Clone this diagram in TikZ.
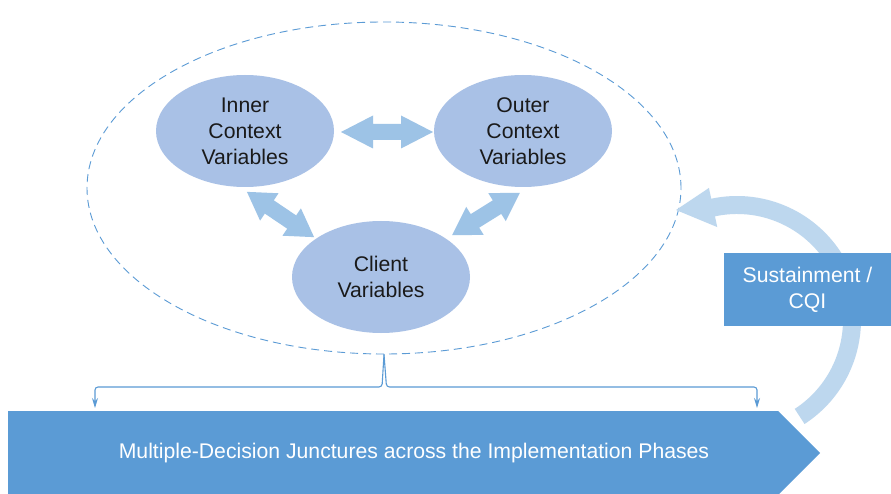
\documentclass[tikz,border=0pt]{standalone}
\usepackage{fontspec}
\setmainfont{Liberation Sans}
\usetikzlibrary{arrows.meta,shapes.geometric}
\definecolor{barblue}{HTML}{5B9BD5}
\definecolor{bubble}{HTML}{A9C1E6}
\definecolor{linkarrow}{HTML}{9DC3E6}
\definecolor{loopblue}{HTML}{BDD7EE}
\definecolor{ink}{HTML}{1A1A1A}
\begin{document}
\begin{tikzpicture}[x=1pt,y=-1pt,
  lbl/.style={font=\fontsize{21.2}{26}\selectfont, align=center},
  bubblenode/.style={ellipse, fill=bubble, inner sep=0pt,
    minimum width=178pt, minimum height=112pt, lbl, text=ink},
  ring/.style={ellipse, draw=barblue, line width=0.9pt,
    dash pattern=on 8pt off 5pt, inner sep=0pt,
    minimum width=594pt, minimum height=332pt},
  link/.style={draw=barblue, line width=1.1pt},
  linktip/.style={-{Stealth[length=10pt,width=6pt]}, rounded corners=3pt},
  pics/dblarrow/.style args={#1/#2}{code={
    \fill[linkarrow] (-#1/2,0) -- (-#1/2+#2,16.5) -- (-#1/2+#2,8)
      -- (#1/2-#2,8) -- (#1/2-#2,16.5) -- (#1/2,0)
      -- (#1/2-#2,-16.5) -- (#1/2-#2,-8) -- (-#1/2+#2,-8)
      -- (-#1/2+#2,-16.5) -- cycle;
  }}
]
% page
\fill[white] (0,0) rectangle (891,494);
\useasboundingbox (0,0) rectangle (891,494);

% dashed context ellipse
\node[ring] (ctx) at (384,188) {};

% the three variable groups
\node[bubblenode] (inner) at (245,131) {Inner\\Context\\Variables};
\node[bubblenode] (outer) at (523,131) {Outer\\Context\\Variables};
\node[bubblenode] (client) at (381,277) {Client\\Variables};

% two-way arrows between the groups
\pic at (387,132) {dblarrow=92/32};
\pic[rotate=-34] at (280.5,214.5) {dblarrow=81/27};
\pic[rotate=32] at (486,214) {dblarrow=80/27};

% sustainment feedback loop
\begin{scope}[shift={(737,320)}]
  \coordinate (looptip) at (676-737,210-320);
  \fill[loopblue] (57:124) arc[start angle=57, end angle=-102, radius=124]
    -- (-102:135) -- (looptip) -- (-102:95) -- (-102:106)
    arc[start angle=-102, end angle=57, radius=106] -- cycle;
\end{scope}

% implementation phases banner
\fill[barblue] (8,411) -- (778,411) -- (820,453) -- (779,494) -- (8,494) -- cycle;
\node[lbl, text=white] (phases) at (414,453)
  {Multiple-Decision Junctures across the Implementation Phases};

% sustainment box
\node[fill=barblue, lbl, text=white, inner sep=0pt,
  minimum width=167pt, minimum height=73pt] (sust) at (807.5,289.5)
  {Sustainment /\\CQI};

% fork from the context ellipse down to the banner
\coordinate (forkl) at (382,387);
\coordinate (forkr) at (386.5,387);
\coordinate (lt) at (95,408);
\coordinate (rt) at (757,408);
\draw[link, linktip] (ctx.south) -- (forkl) -| (lt);
\draw[link, linktip] (ctx.south) -- (forkr) -| (rt);
\end{tikzpicture}
\end{document}
